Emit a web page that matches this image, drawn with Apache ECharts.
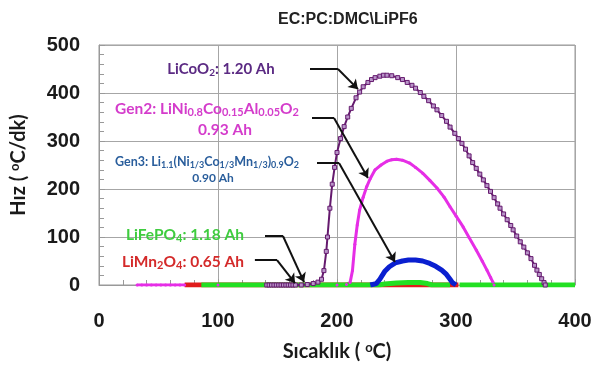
<!DOCTYPE html>
<html>
<head>
<meta charset="utf-8">
<script src="https://cdn.jsdelivr.net/npm/echarts@6/dist/echarts.min.js"></script>
<style>
  html, body { margin: 0; padding: 0; background: #fff; }
  #chart { width: 595px; height: 368px; }
</style>
</head>
<body>
<div id="chart"></div>
<script>
// values: [temperature °C, rate °C/dk]
var licoo2 = [
  [141,0],[143,0],[145,0],[147,0],[149,0],[151,0],[153,0],[155,0],[157,0],[159,0],[161,0],[163,0],[165,0],
  [170,0],[175,1],[180,3],[184,6],[187,12],[189,30],[191,70],[192,100],[194,160],[196,210],[198,245],
  [200,276],[203,305],[206,330],[209,350],[212,368],[216,390],[219,402],[222,413],[226,422],[229,428],
  [232,432],[236,435],[239,437],[242,437],[246,436],[251,432],[255,428],[259,422],[263,416],[266,410],
  [270,401],[273,393],[277,384],[281,373],[284,365],[288,353],[292,341],[295,329],[299,316],[302,305],
  [305,295],[308,283],[311,269],[314,255],[317,243],[320,231],[323,219],[326,207],[329,195],[332,182],
  [335,169],[337,160],[340,148],[343,136],[346,124],[348,115],[351,102],[354,90],[357,79],[360,67],
  [363,55],[366,41],[368,31],[370,22],[372,13],[374,5],[375,0]
];
var gen2 = [
  [32,0],[36,0],[40,0],[44,0],[48,0],[52,0],[56,0],[60,0],[64,0],[68,0],[72,0],[100,0],[150,0],[200,0],
  [208,1],[211,5],[213,30],[215,85],[217,125],[219,156],[222,183],[225,205],[228,222],[232,240],[237,250],
  [242,258],[246,261],[250,262],[255,260],[261,254],[266,245],[272,233],[278,218],[284,202],[290,183],
  [295,163],[300,144],[306,121],[311,99],[317,73],[322,50],[326,31],[329,16],[331,6],[332,0]
];
var gen3 = [
  [228,0],[233,3],[236,12],[240,28],[244,38],[249,46],[255,50],[260,52],[266,52],[272,50],[278,45],
  [283,39],[288,31],[292,22],[295,12],[297,5],[300,0]
];
var lifepo4 = [
  [86,0],[120,0],[160,0],[200,0],[235,0],[240,2],[250,4],[260,5],[270,5],[276,3],[280,0],[295,0],
  [296,'-'],[302,'-'],[303,0],[350,0],[400,0]
];
var limn2o4 = [[72,0],[86,0],[150,0],[200,0],[250,0],[302,0]];

var xTicks = [0, 100, 200, 300, 400];
var yTicks = [0, 100, 200, 300, 400, 500];

// annotation arrows, in data coordinates: [start, bend, tip]
var arrowLiCoO2 = [[177.3,450],[200.8,450],[217.6,408]];
var arrowGen2 = [[179,348],[197.5,348],[226,223]];
var arrowGen3 = [[183.2,254],[201.7,254],[248.7,48]];
var arrowLiFePO4 = [[139.5,102],[154.6,102],[172.3,6]];
var arrowLiMn2O4 = [[131,52],[149.6,52],[164.7,4]];
var arrows = [arrowLiCoO2, arrowGen2, arrowGen3, arrowLiFePO4, arrowLiMn2O4];

var chart = echarts.init(document.getElementById('chart'));

var labelFont = 'Lato, "Open Sans", sans-serif';
function subStyles(color, size) {
  return {
    a: { fontSize: size, fontWeight: 'bold', fill: color, fontFamily: labelFont },
    s: { fontSize: Math.round(size * 0.68), fontWeight: 'bold', fill: color, fontFamily: labelFont, verticalAlign: 'bottom', padding: [Math.round(size * 0.45), 0, 0, 0] }
  };
}

function annotation(x, y, text, color, size) {
  return {
    type: 'text', x: x, y: y, z: 100,
    style: { text: text, rich: subStyles(color, size), fill: color, align: 'center', verticalAlign: 'middle' }
  };
}

var supStyle = { fontFamily: labelFont, fontSize: 13, fontWeight: 'bold', color: '#1a1a1a', verticalAlign: 'top', padding: [0, 0, 8, 0] };

chart.setOption({
  backgroundColor: '#fff',
  animation: false,
  title: {
    text: 'EC:PC:DMC\\LiPF6',
    left: 273, top: 7,
    textStyle: { fontFamily: '"Liberation Sans", Arial', fontSize: 16, fontWeight: 'bold', color: '#222' }
  },
  grid: {
    left: 99, right: 20, top: 45, bottom: 83,
    show: true, borderColor: '#999', borderWidth: 1
  },
  xAxis: {
    type: 'value', min: 0, max: 400, interval: 100,
    name: 'Sıcaklık ( {sup|o}C)',
    nameLocation: 'middle', nameGap: 56,
    nameTextStyle: {
      fontFamily: labelFont, fontSize: 20, fontWeight: 'bold', color: '#1a1a1a',
      rich: { sup: supStyle }
    },
    axisLine: { show: true, lineStyle: { color: '#999' } },
    axisTick: { show: true, inside: true, length: 6, lineStyle: { color: '#999' } },
    minorTick: { show: true, splitNumber: 5, length: 5, lineStyle: { color: '#999' } },
    axisLabel: {
      margin: 26,
      fontFamily: '"Liberation Sans", Arial', fontSize: 20, fontWeight: 'bold', color: '#1a1a1a',
      formatter: function (v) { return xTicks.indexOf(v) >= 0 ? String(v) : ''; }
    },
    splitLine: { show: true, lineStyle: { color: '#a6a6a6' } }
  },
  yAxis: {
    type: 'value', min: 0, max: 500, interval: 100,
    name: 'Hız ( {sup|o}C/dk)',
    nameLocation: 'middle', nameGap: 70,
    nameTextStyle: {
      fontFamily: labelFont, fontSize: 20, fontWeight: 'bold', color: '#1a1a1a',
      rich: { sup: supStyle }
    },
    axisLine: { show: true, lineStyle: { color: '#999' } },
    axisTick: { show: true, inside: true, length: 6, lineStyle: { color: '#999' } },
    minorTick: { show: true, splitNumber: 5, length: 5, lineStyle: { color: '#999' } },
    axisLabel: {
      margin: 19,
      fontFamily: '"Liberation Sans", Arial', fontSize: 20, fontWeight: 'bold', color: '#1a1a1a',
      formatter: function (v) { return yTicks.indexOf(v) >= 0 ? String(v) : ''; }
    },
    splitLine: { show: true, lineStyle: { color: '#a6a6a6' } }
  },
  series: [
    {
      name: 'Gen2', type: 'line', data: gen2,
      symbol: 'circle', symbolSize: 3,
      itemStyle: { color: '#e62ee6' },
      lineStyle: { color: '#e62ee6', width: 3 }
    },
    {
      name: 'LiMn2O4', type: 'line', data: limn2o4, symbol: 'none',
      lineStyle: { color: '#e01b1b', width: 5 }
    },
    {
      name: 'LiFePO4', type: 'line', data: lifepo4, symbol: 'none', connectNulls: false,
      lineStyle: { color: '#22e022', width: 5 }
    },
    {
      name: 'Gen3', type: 'line', data: gen3, symbol: 'none',
      lineStyle: { color: '#0a1fd0', width: 5 }
    },
    {
      name: 'LiCoO2', type: 'line', data: licoo2,
      symbol: 'rect', symbolSize: 4,
      itemStyle: { color: '#b894c8', borderColor: '#651a6e', borderWidth: 1 },
      lineStyle: { color: '#651a6e', width: 2 }
    },
    {
      name: 'arrowLeg', type: 'lines', coordinateSystem: 'cartesian2d', z: 10,
      symbol: 'none',
      lineStyle: { color: '#111', width: 2, opacity: 1 },
      data: arrows.map(function (a) { return { coords: [a[0], a[1]] }; })
    },
    {
      name: 'arrowHead', type: 'lines', coordinateSystem: 'cartesian2d', z: 10,
      symbol: ['none', 'arrow'], symbolSize: 9,
      lineStyle: { color: '#111', width: 2, opacity: 1 },
      data: arrows.map(function (a) { return { coords: [a[1], a[2]] }; })
    }
  ],
  graphic: [
    annotation(221, 69, '{a|LiCoO}{s|2}{a|: 1.20 Ah}', '#5b2a83', 15),
    annotation(207, 109, '{a|Gen2: LiNi}{s|0.8}{a|Co}{s|0.15}{a|Al}{s|0.05}{a|O}{s|2}', '#d43ccb', 15.5),
    annotation(225, 130, '{a|0.93 Ah}', '#d43ccb', 15.5),
    annotation(207, 162, '{a|Gen3: Li}{s|1.1}{a|(Ni}{s|1/3}{a|Co}{s|1/3}{a|Mn}{s|1/3}{a|)}{s|0.9}{a|O}{s|2}', '#2a5e9c', 12.5),
    annotation(213, 178, '{a|0.90 Ah}', '#2a5e9c', 12),
    annotation(185, 235, '{a|LiFePO}{s|4}{a|: 1.18 Ah}', '#3fcc3f', 15.5),
    annotation(183, 262, '{a|LiMn}{s|2}{a|O}{s|4}{a|: 0.65 Ah}', '#d42a2a', 15.5)
  ]
});
</script>
</body>
</html>
